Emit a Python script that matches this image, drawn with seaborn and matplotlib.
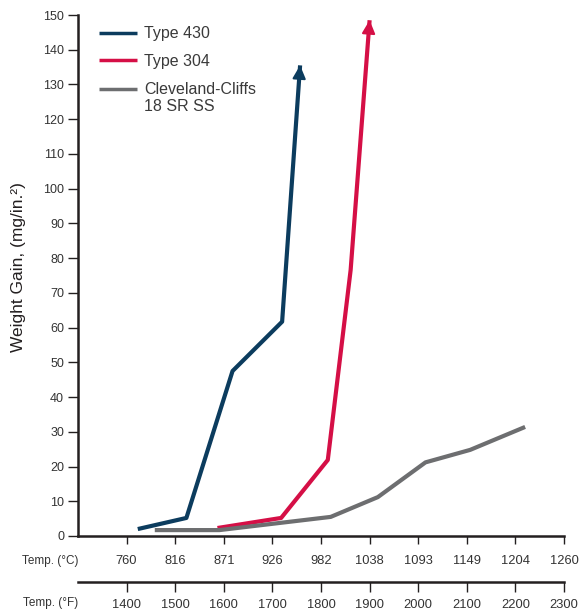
import numpy as np
import pandas as pd
import matplotlib
matplotlib.use("Agg")
import matplotlib.pyplot as plt
import seaborn as sns

# valori (x in gradi F, y = weight gain mg/in2)
t430_f = [1423, 1523, 1618, 1720, 1757]
t430_w = [2.0, 5.2, 47.5, 61.7, 135.5]
t304_f = [1587, 1718, 1814, 1861, 1900]
t304_w = [2.3, 5.2, 21.9, 76.6, 148.5]
cc_f = [1458, 1591, 1820, 1917, 2015, 2107, 2220]
cc_w = [1.7, 1.7, 5.5, 11.2, 21.2, 24.8, 31.4]

temp_f = [1400, 1500, 1600, 1700, 1800, 1900, 2000, 2100, 2200, 2300]
temp_c = [760, 816, 871, 926, 982, 1038, 1093, 1149, 1204, 1260]

serie = ["Type 430", "Type 304", "Cleveland-Cliffs\n18 SR SS"]
colori = ["#0c3c5e", "#d50f46", "#6d6e70"]

df = pd.concat([
    pd.DataFrame({"F": t430_f, "W": t430_w, "Serie": serie[0]}),
    pd.DataFrame({"F": t304_f, "W": t304_w, "Serie": serie[1]}),
    pd.DataFrame({"F": cc_f, "W": cc_w, "Serie": serie[2]}),
])

sns.set_style("white")
plt.rcParams["font.family"] = ["Liberation Sans", "DejaVu Sans"]

fig = plt.figure(figsize=(5.79, 6.13), dpi=100)
W, H = 579, 613
ax = fig.add_axes([78 / W, 1 - 536 / H, (564 - 78) / W, (536 - 15) / H])

sns.lineplot(data=df, x="F", y="W", hue="Serie", palette=dict(zip(serie, colori)),
             estimator=None, sort=False, lw=3, ax=ax, legend=True,
             solid_capstyle="butt")

# frecce alla fine di 430 e 304
for xs, ys, c in [(t430_f, t430_w, colori[0]), (t304_f, t304_w, colori[1])]:
    x0, y0, x1, y1 = xs[-2], ys[-2], xs[-1], ys[-1]
    k = 0.12
    ax.annotate("", xy=(x1, y1), xytext=(x1 - k * (x1 - x0), y1 - k * (y1 - y0)),
                arrowprops=dict(arrowstyle="-|>", color=c, lw=1.5,
                                mutation_scale=20, shrinkA=0, shrinkB=0))

ax.set_xlim(1300, 2300)
ax.set_ylim(0, 150)
ax.set_yticks(range(0, 151, 10))
ax.set_xticks(temp_f)
ax.set_xticklabels([str(c) for c in temp_c])
ax.set_xlabel("")
ax.set_ylabel("")

for s in ["top", "right"]:
    ax.spines[s].set_visible(False)
for s in ["left", "bottom"]:
    ax.spines[s].set_color("#231f20")
    ax.spines[s].set_linewidth(1.8)

ax.tick_params(axis="y", direction="out", length=7, width=1, color="#231f20",
               labelsize=9, labelcolor="#333333", pad=3, left=True)
ax.tick_params(axis="x", direction="out", length=6, width=1, color="#231f20",
               labelsize=9.3, labelcolor="#333333", pad=8, bottom=True)

# seconda scala in F
sec = ax.secondary_xaxis(-46 / 521)
sec.set_xticks(temp_f)
sec.set_xticklabels([str(f) for f in temp_f])
sec.spines["bottom"].set_linewidth(1.8)
sec.spines["bottom"].set_color("#231f20")
sec.tick_params(axis="x", direction="out", length=7, width=1, color="#231f20",
                labelsize=9.3, labelcolor="#333333", pad=5)

fig.text(78 / W, 1 - 561 / H, "Temp. (°C)", ha="right", va="center",
         fontsize=8.5, color="#333333")
fig.text(78 / W, 1 - 603 / H, "Temp. (°F)", ha="right", va="center",
         fontsize=8.5, color="#333333")
fig.text(19 / W, 1 - 267 / H, "Weight Gain, (mg/in.²)", rotation=90,
         ha="center", va="center", fontsize=12.5, color="#231f20")

leg = ax.legend(title=None, loc="upper left", bbox_to_anchor=(11 / 486, 0.997),
                frameon=False, handlelength=2.4, handletextpad=0.45,
                labelspacing=0.8, borderaxespad=0.2,
                prop={"family": ["Liberation Sans", "DejaVu Sans"], "size": 11.5})
for t in leg.get_texts():
    t.set_color("#3a3a3a")
linee = leg.get_lines()
for l in linee:
    l.set_linewidth(2.5)
# linea grigia allineata alla prima riga del testo
yd = linee[2].get_ydata()
linee[2].set_ydata([v + 6.5 for v in yd])

plt.savefig("out.png", dpi=100)
